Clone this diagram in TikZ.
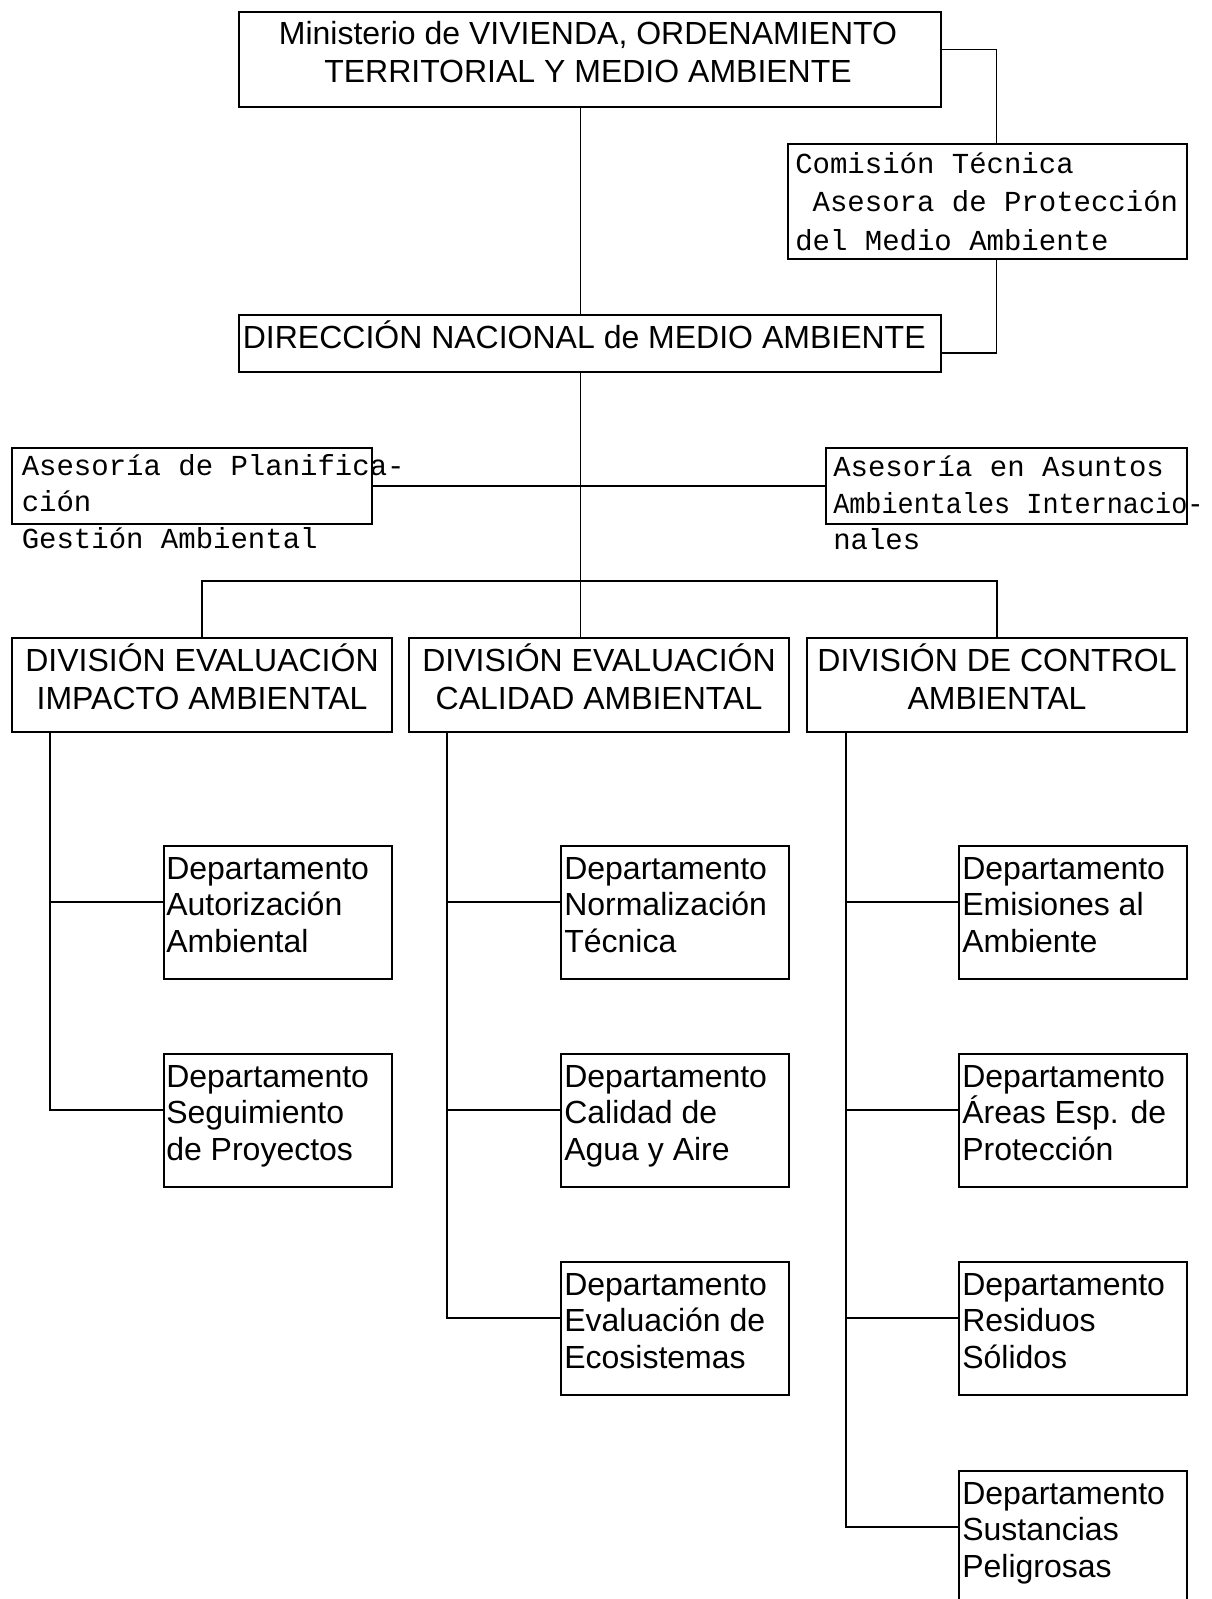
\documentclass[tikz,border=0pt]{standalone}
\usepackage{fontspec}
\usepackage{graphicx}
\setmainfont{Liberation Sans}
\newfontfamily\monof{Liberation Mono}
\usetikzlibrary{fit}
\newcommand\sanslines[2]{\parbox[t]{500pt}{\fontsize{24}{#1}\selectfont\raggedright #2}}
\newcommand\sanscenter[2]{\parbox[t]{700pt}{\fontsize{24}{#1}\selectfont\centering #2}}
\newcommand\monolines[2]{\parbox[t]{500pt}{\monof\fontsize{21.75}{#1}\selectfont\raggedright #2}}
\begin{document}
\begin{tikzpicture}[x=0.75pt,y=-0.75pt,
  box/.style={draw, line width=1pt, inner sep=0pt, fit={#1}},
  link/.style={line width=1pt},
  txt/.style={inner sep=0pt, anchor=base west},
  ctxt/.style={inner sep=0pt, anchor=base}]
\useasboundingbox (0,0) rectangle (1211,1599);
\fill[white] (0,0) rectangle (1211,1599);

% boxes
\node[box={(239,12)(941,107)}] (min) {};
\node[box={(788,144)(1187,259)}] (com) {};
\node[box={(239,315)(941,372)}] (dir) {};
\node[box={(12,448)(372,524)}] (plan) {};
\node[box={(826,448)(1187,524)}] (asun) {};
\node[box={(12,638)(392,732)}] (div1) {};
\node[box={(409,638)(789,732)}] (div2) {};
\node[box={(807,638)(1187,732)}] (div3) {};
\node[box={(164,846)(392,979)}] (d11) {};
\node[box={(164,1054)(392,1187)}] (d12) {};
\node[box={(561,846)(789,979)}] (d21) {};
\node[box={(561,1054)(789,1187)}] (d22) {};
\node[box={(561,1262)(789,1395)}] (d23) {};
\node[box={(959,846)(1187,979)}] (d31) {};
\node[box={(959,1054)(1187,1187)}] (d32) {};
\node[box={(959,1262)(1187,1395)}] (d33) {};
\node[box={(959,1471)(1187,1604)}] (d34) {};

% texts
\node[ctxt] (tmin) at (588,44.3) {\sanscenter{28.8}{Ministerio de VIVIENDA, ORDENAMIENTO\\TERRITORIAL Y MEDIO AMBIENTE}};
\node[txt] (tcom) at (795,173) {\monolines{28.9}{Comisión Técnica\\\hspace*{0.6em}Asesora de Protección\\del Medio Ambiente}};
\node[txt] (tdir) at (242.6,348.3) {\fontsize{24}{28}\selectfont DIRECCIÓN NACIONAL de MEDIO AMBIENTE};
\node[txt] (tplan) at (21.5,475) {\monolines{27.4}{Asesoría de Planifica-\\ción\\Gestión Ambiental}};
\node[txt] (tasun) at (833,476.7) {\monolines{27.4}{Asesoría en Asuntos\\\scalebox{0.925}[1]{Ambientales Internacio-}\\nales}};
\node[ctxt] (tdiv1) at (202,671.7) {\sanscenter{28}{DIVISIÓN EVALUACIÓN\\IMPACTO AMBIENTAL}};
\node[ctxt] (tdiv2) at (599,671.7) {\sanscenter{28}{DIVISIÓN EVALUACIÓN\\CALIDAD AMBIENTAL}};
\node[ctxt] (tdiv3) at (997,671.7) {\sanscenter{28}{DIVISIÓN DE CONTROL\\AMBIENTAL}};
\node[txt] (td11) at (166,879) {\sanslines{27.5}{Departamento\\Autorización\\Ambiental}};
\node[txt] (td12) at (166,1087) {\sanslines{27.5}{Departamento\\Seguimiento\\de Proyectos}};
\node[txt] (td21) at (564,879) {\sanslines{27.5}{Departamento\\Normalización\\Técnica}};
\node[txt] (td22) at (564,1087) {\sanslines{27.5}{Departamento\\Calidad de\\Agua y Aire}};
\node[txt] (td23) at (564,1295) {\sanslines{27.5}{Departamento\\Evaluación de\\Ecosistemas}};
\node[txt] (td31) at (962,879) {\sanslines{27.5}{Departamento\\Emisiones al\\Ambiente}};
\node[txt] (td32) at (962,1087) {\sanslines{27.5}{Departamento\\Áreas Esp. de\\Protección}};
\node[txt] (td33) at (962,1295) {\sanslines{27.5}{Departamento\\Residuos\\Sólidos}};
\node[txt] (td34) at (962,1504) {\sanslines{27.5}{Departamento\\Sustancias\\Peligrosas}};

% helper coordinates
\coordinate (c1) at (996.5,49.5);
\coordinate (c2) at (996.5,353);
\coordinate (sp) at (580.5,0);
\coordinate (hb) at (0,581);
\coordinate (v1) at (50,0);
\coordinate (v2) at (447,0);
\coordinate (v3) at (846,0);
\foreach \d in {d11,d12,d21,d22,d23,d31,d32,d33,d34}
  \coordinate (k\d) at ([yshift=7.875pt]\d.west);

% connectors
\draw[link] (min.east |- c1) -- (c1) -- (c1 |- com.north);
\draw[link] (c1 |- com.south) -- (c2) -- (dir.east |- c2);
\draw[link] (sp |- min.south) -- (sp |- dir.north);
\draw[link] (sp |- dir.south) -- (sp |- div2.north);
\draw[link] (plan.east) -- (asun.west);
\draw[link] (div1.north) -- (div1.north |- hb) -- (div3.north |- hb) -- (div3.north);

\draw[link] (div1.south -| v1) |- (kd12);
\draw[link] (kd11 -| v1) -- (kd11);
\draw[link] (div2.south -| v2) |- (kd23);
\draw[link] (kd21 -| v2) -- (kd21);
\draw[link] (kd22 -| v2) -- (kd22);
\draw[link] (div3.south -| v3) |- (kd34);
\draw[link] (kd31 -| v3) -- (kd31);
\draw[link] (kd32 -| v3) -- (kd32);
\draw[link] (kd33 -| v3) -- (kd33);
\end{tikzpicture}
\end{document}
